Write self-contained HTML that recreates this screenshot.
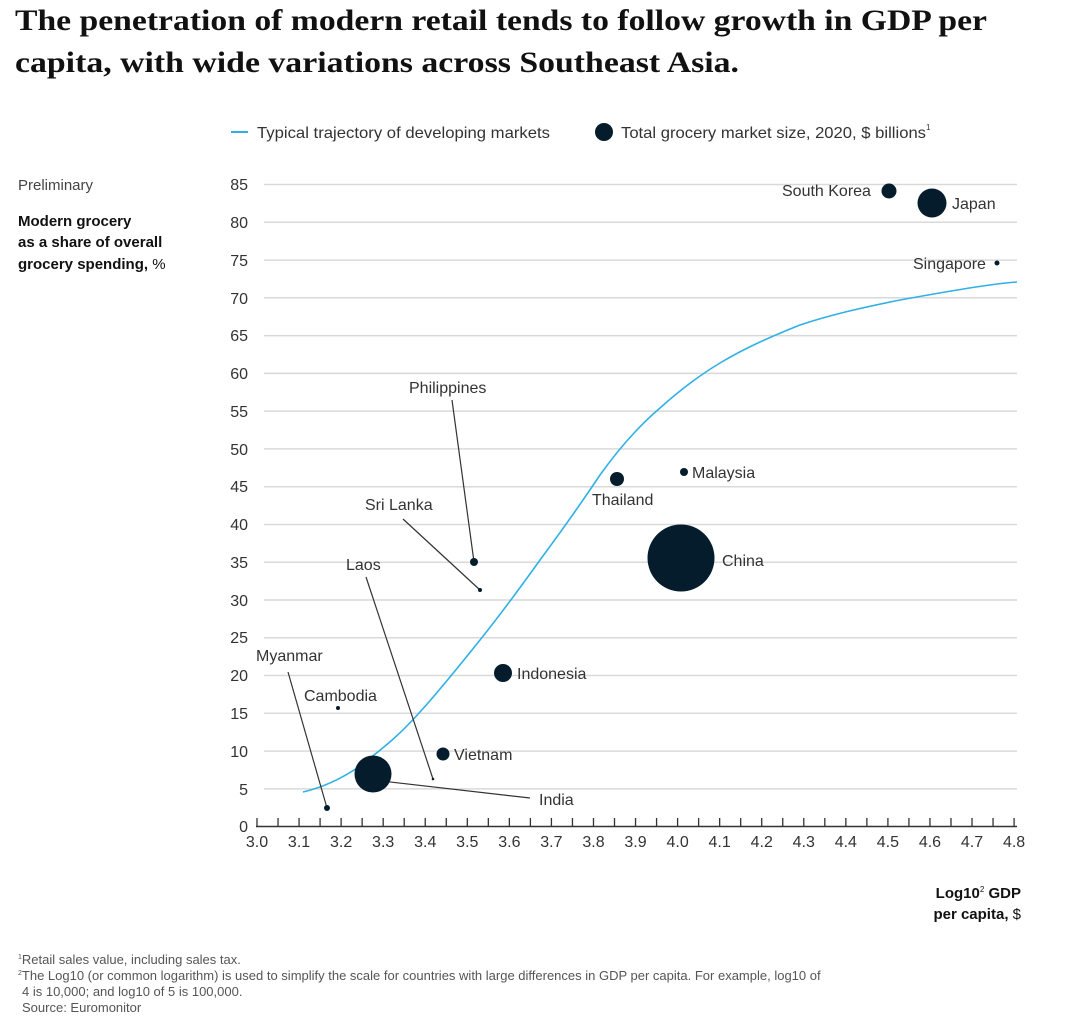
<!DOCTYPE html>
<html><head><meta charset="utf-8"><style>
html,body{margin:0;padding:0;background:#fff;}
svg{display:block;font-family:"Liberation Sans",sans-serif;}
</style></head><body>
<svg width="1080" height="1026" viewBox="0 0 1080 1026" xmlns="http://www.w3.org/2000/svg">
<text x="15" y="30" font-family="Liberation Serif,serif" font-weight="bold" font-size="30" fill="#111" textLength="972" lengthAdjust="spacingAndGlyphs">The penetration of modern retail tends to follow growth in GDP per</text>
<text x="15" y="72" font-family="Liberation Serif,serif" font-weight="bold" font-size="30" fill="#111" textLength="724" lengthAdjust="spacingAndGlyphs">capita, with wide variations across Southeast Asia.</text>

<line x1="231" y1="132" x2="248" y2="132" stroke="#2fb0e6" stroke-width="2"/>
<text x="257" y="138" font-size="16" fill="#333" textLength="293" lengthAdjust="spacingAndGlyphs">Typical trajectory of developing markets</text>
<circle cx="604" cy="132" r="9" fill="#051c2c"/>
<text x="621" y="138" font-size="16" fill="#333" textLength="305" lengthAdjust="spacingAndGlyphs">Total grocery market size, 2020, $ billions</text>
<text x="926" y="130" font-size="8" fill="#333">1</text>

<text x="18" y="190" font-size="15" fill="#444">Preliminary</text>
<text x="18" y="226" font-size="15" font-weight="bold" fill="#111">Modern grocery</text>
<text x="18" y="247" font-size="15" font-weight="bold" fill="#111">as a share of overall</text>
<text x="18" y="269" font-size="15" font-weight="bold" fill="#111">grocery spending, <tspan font-weight="normal">%</tspan></text>

<g stroke="#d9d9d9" stroke-width="1.5">
<line x1="264" y1="184.5" x2="1017" y2="184.5"/><line x1="264" y1="222.3" x2="1017" y2="222.3"/>
<line x1="264" y1="260.1" x2="1017" y2="260.1"/><line x1="264" y1="297.8" x2="1017" y2="297.8"/>
<line x1="264" y1="335.6" x2="1017" y2="335.6"/><line x1="264" y1="373.4" x2="1017" y2="373.4"/>
<line x1="264" y1="411.1" x2="1017" y2="411.1"/><line x1="264" y1="448.9" x2="1017" y2="448.9"/>
<line x1="264" y1="486.7" x2="1017" y2="486.7"/><line x1="264" y1="524.5" x2="1017" y2="524.5"/>
<line x1="264" y1="562.2" x2="1017" y2="562.2"/><line x1="264" y1="600" x2="1017" y2="600"/>
<line x1="264" y1="637.8" x2="1017" y2="637.8"/><line x1="264" y1="675.5" x2="1017" y2="675.5"/>
<line x1="264" y1="713.3" x2="1017" y2="713.3"/><line x1="264" y1="751.1" x2="1017" y2="751.1"/>
<line x1="264" y1="788.9" x2="1017" y2="788.9"/>
</g>
<g font-size="16" fill="#333" text-anchor="end">
<text x="248" y="190">85</text><text x="248" y="228">80</text><text x="248" y="266">75</text>
<text x="248" y="304">70</text><text x="248" y="341">65</text><text x="248" y="379">60</text>
<text x="248" y="417">55</text><text x="248" y="455">50</text><text x="248" y="492">45</text>
<text x="248" y="530">40</text><text x="248" y="568">35</text><text x="248" y="606">30</text>
<text x="248" y="643">25</text><text x="248" y="681">20</text><text x="248" y="719">15</text>
<text x="248" y="757">10</text><text x="248" y="795">5</text><text x="248" y="832">0</text>
</g>
<line x1="256" y1="826.5" x2="1017" y2="826.5" stroke="#333" stroke-width="1.5"/>
<g id="ticks" stroke="#333" stroke-width="1.3"></g>
<g font-size="16" fill="#333" text-anchor="middle" id="xl"></g>

<path d="M303,792 C320,788 340,780 360,766 C380,750 395,740 420,712 C440,690 460,665 480,640 C500,615 520,588 540,560 C560,533 580,505 600,475 C620,447 640,425 660,408 C680,390 700,375 720,363 C745,348 770,337 800,325 C830,315 860,308 900,300 C950,291 990,284 1017,282" fill="none" stroke="#2fb0e6" stroke-width="1.6"/>

<g stroke="#333" stroke-width="1.2">
<line x1="452" y1="400" x2="474" y2="562"/>
<line x1="403" y1="519" x2="480" y2="590"/>
<line x1="366" y1="577" x2="433" y2="779"/>
<line x1="288" y1="672" x2="327" y2="808"/>
<line x1="373" y1="780" x2="530" y2="798"/>
</g>
<g fill="#051c2c">
<circle cx="889" cy="191" r="7.5"/><circle cx="932" cy="203" r="14.5"/><circle cx="997" cy="263" r="2.5"/>
<circle cx="684" cy="472" r="4"/><circle cx="617" cy="479" r="7"/><circle cx="681" cy="558" r="33.5"/>
<circle cx="474" cy="562" r="4"/><circle cx="480" cy="590" r="2"/><circle cx="503" cy="673" r="9"/>
<circle cx="338" cy="708" r="2"/><circle cx="443" cy="754" r="6.5"/><circle cx="373" cy="774" r="18.5"/>
<circle cx="327" cy="808" r="3"/><circle cx="433" cy="779" r="1.3"/>
</g>
<g font-size="16" fill="#333">
<text x="782" y="196">South Korea</text>
<text x="952" y="209">Japan</text>
<text x="913" y="269">Singapore</text>
<text x="692" y="478">Malaysia</text>
<text x="592" y="505">Thailand</text>
<text x="722" y="566">China</text>
<text x="409" y="393">Philippines</text>
<text x="365" y="510">Sri Lanka</text>
<text x="346" y="570">Laos</text>
<text x="517" y="679">Indonesia</text>
<text x="256" y="661">Myanmar</text>
<text x="304" y="701">Cambodia</text>
<text x="454" y="760">Vietnam</text>
<text x="539" y="805">India</text>
</g>
<text x="1021" y="898" font-size="15" font-weight="bold" fill="#111" text-anchor="end">Log10<tspan font-size="8" dy="-6" font-weight="normal">2</tspan><tspan dy="6"> GDP</tspan></text>
<text x="1021" y="919" font-size="15" font-weight="bold" fill="#111" text-anchor="end">per capita, <tspan font-weight="normal">$</tspan></text>

<g font-size="13" fill="#555">
<text x="18" y="964"><tspan font-size="7" dy="-5">1</tspan><tspan dy="5">Retail sales value, including sales tax.</tspan></text>
<text x="18" y="980"><tspan font-size="7" dy="-5">2</tspan><tspan dy="5">The Log10 (or common logarithm) is used to simplify the scale for countries with large differences in GDP per capita. For example, log10 of</tspan></text>
<text x="22" y="996">4 is 10,000; and log10 of 5 is 100,000.</text>
<text x="22" y="1012">Source: Euromonitor</text>
</g>
<script>
var t=document.getElementById('ticks'),xl=document.getElementById('xl'),ns='http://www.w3.org/2000/svg';
for(var i=0;i<=36;i++){var x=257+i*21.03;var l=document.createElementNS(ns,'line');l.setAttribute('x1',x);l.setAttribute('x2',x);l.setAttribute('y1',818);l.setAttribute('y2',827);t.appendChild(l);
if(i%2==0){var s=document.createElementNS(ns,'text');s.setAttribute('x',x);s.setAttribute('y',847);s.textContent=(3+i/20).toFixed(1);xl.appendChild(s);}}
</script>
</svg>
</body></html>
